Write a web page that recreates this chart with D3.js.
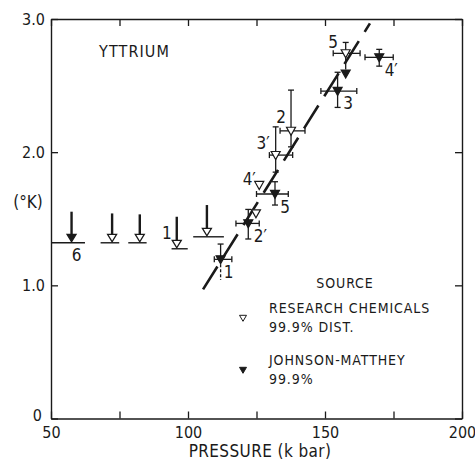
<!DOCTYPE html>
<html>
<head>
<meta charset="utf-8">
<script src="https://cdn.jsdelivr.net/npm/d3@7"></script>
<style>
  body { margin: 0; background: #fff; }
  svg { display: block; font-family: "Liberation Sans Narrow", "DejaVu Sans Condensed", "Liberation Sans", Arial, sans-serif; }
</style>
</head>
<body>
<svg id="chart" width="475" height="461"></svg>
<script>
// upper limits drawn as arrows on the left
const limitPressure = [57.5, 72.3, 82.4, 95.9, 106.9];
const limitTc = [1.327, 1.327, 1.327, 1.282, 1.372];
const limitArrowTop = [1.553, 1.54, 1.533, 1.515, 1.603];
const limitRangeLo = [50, 68.1, 78.2, 94.0, 101.9];
const limitRangeHi = [62.4, 74.9, 84.9, 99.9, 113.1];
const limitSource = ["JM", "RC", "RC", "RC", "RC"];
const limitLabels = ["6", "", "", "1", ""];

// measured points with error bars
const pointLabels = ["1", "2′", "", "4′", "5", "3′", "2", "3", "5", "", "4′"];
const pointSource = ["JM", "JM", "RC", "RC", "JM", "RC", "RC", "JM", "RC", "JM", "JM"];
const pointPressure = [111.9, 122.0, 124.8, 126.0, 131.75, 132.0, 137.6, 154.6, 157.55, 157.55, 169.8];
const pointTc = [1.195, 1.465, 1.54, 1.753, 1.686, 1.978, 2.16, 2.459, 2.742, 2.59, 2.712];
const pressureLo = [109.6, 117.5, null, null, 125.0, 129.7, 133.6, 148.5, 153.0, null, 164.6];
const pressureHi = [116.0, 126.0, null, null, 136.6, 138.2, 142.7, 161.6, 162.8, null, 174.9];
const tcLo = [1.04, 1.348, null, null, 1.603, 1.85, 2.04, 2.336, 2.62, null, 2.646];
const tcHi = [1.31, 1.57, null, null, 1.778, 2.19, 2.466, 2.60, 2.824, null, 2.772];
const tcLoStyle = ["dash", "cap", null, null, "cap", "cap", "cap", "cap", "none", null, "cap"];

// dashed guide line
const linePressure = [105.5, 166.4];
const lineTc = [0.97, 2.967];

const xTicks = [50, 75, 100, 125, 150, 175, 200];
const xTickLabels = [50, 100, 150, 200];
const yTicks = [0, 1, 2, 3];
const yTickLabels = ["0", "1.0", "2.0", "3.0"];

const sourceKeys = ["RC", "JM"];
const sourceNames = [["RESEARCH CHEMICALS", "99.9% DIST."], ["JOHNSON-MATTHEY", "99.9%"]];

// label placement (pixels from the point)
const labelOffset = [[8, 13], [12, 13], null, [-10, -6], [10, 13.5], [-12.5, -12], [-10, -14], [10.5, 12], [-12.5, -11], null, [12, 13]];

const W = 475, H = 461;
const margin = { top: 19, right: 13, bottom: 42.5, left: 51 };
const ink = "#1a1a1a";

const svg = d3.select("#chart");

const x = d3.scaleLinear().domain([50, 200]).range([margin.left, W - margin.right]);
const y = d3.scaleLinear().domain([0, 3]).range([H - margin.bottom, margin.top]);

// axes, ticks point inward
const styleAxis = g => {
  g.attr("font-family", null).attr("font-size", 16);
  g.select(".domain").attr("stroke", ink).attr("stroke-width", 1.4);
  g.selectAll(".tick line").attr("stroke", ink).attr("stroke-width", 1.3);
  g.selectAll(".tick text").attr("fill", ink);
};

svg.append("g")
  .attr("transform", `translate(0,${y(0)})`)
  .call(d3.axisBottom(x).tickValues(xTicks).tickSize(-7).tickSizeOuter(0).tickPadding(8)
    .tickFormat(d => xTickLabels.includes(d) ? d : ""))
  .call(styleAxis);

svg.append("g")
  .attr("transform", `translate(0,${y(3)})`)
  .call(d3.axisTop(x).tickValues(xTicks).tickSize(-7).tickSizeOuter(0).tickFormat(""))
  .call(styleAxis);

svg.append("g")
  .attr("transform", `translate(${x(50)},0)`)
  .call(d3.axisLeft(y).tickValues(yTicks).tickSize(-7).tickSizeOuter(0).tickPadding(6)
    .tickFormat((d, i) => yTickLabels[i]))
  .call(styleAxis)
  .call(g => g.selectAll(".tick text").filter(d => d === 0).attr("dy", "0.1em").attr("x", -9));

svg.append("g")
  .attr("transform", `translate(${x(200)},0)`)
  .call(d3.axisRight(y).tickValues(yTicks).tickSize(-7).tickSizeOuter(0).tickFormat(""))
  .call(styleAxis);

// titles
svg.append("text").attr("x", 260).attr("y", 457).attr("text-anchor", "middle")
  .attr("font-size", 17).attr("letter-spacing", 0.4).attr("fill", ink).text("PRESSURE (k bar)");
svg.append("text").attr("x", 28).attr("y", 208).attr("text-anchor", "middle")
  .attr("font-size", 17).attr("fill", ink).text("(°K)");
svg.append("text").attr("x", 99).attr("y", 57).attr("font-size", 16).attr("letter-spacing", 1.1)
  .attr("fill", ink).text("YTTRIUM");

// downward triangle
const tri = (cx, cy, w, h) =>
  `M${cx - w / 2},${cy - h * 0.45}L${cx + w / 2},${cy - h * 0.45}L${cx},${cy + h * 0.55}Z`;
const fillFor = s => s === "JM" ? ink : "#fff";

// dashed line
const lineGen = d3.line().x(d => x(d[0])).y(d => y(d[1]));
svg.append("path")
  .attr("d", lineGen(d3.zip(linePressure, lineTc)))
  .attr("fill", "none").attr("stroke", ink).attr("stroke-width", 2.6)
  .attr("stroke-dasharray", "27,11");

// upper limit arrows
const limits = d3.range(limitPressure.length).map(i => ({
  p: limitPressure[i], t: limitTc[i], top: limitArrowTop[i],
  lo: limitRangeLo[i], hi: limitRangeHi[i], src: limitSource[i], label: limitLabels[i]
}));

const lg = svg.append("g");
limits.forEach(d => {
  const cx = x(d.p), tip = y(d.t);
  lg.append("line").attr("x1", x(d.lo)).attr("x2", x(d.hi)).attr("y1", tip + 1).attr("y2", tip + 1)
    .attr("stroke", ink).attr("stroke-width", 1.4);
  lg.append("line").attr("x1", cx).attr("x2", cx).attr("y1", y(d.top)).attr("y2", tip - 7)
    .attr("stroke", ink).attr("stroke-width", 2.4);
  lg.append("path").attr("d", `M${cx - 4.5},${tip - 7.5}L${cx + 4.5},${tip - 7.5}L${cx},${tip}Z`)
    .attr("fill", fillFor(d.src)).attr("stroke", ink).attr("stroke-width", 1.3);
  if (d.label) {
    const off = d.label === "6" ? [5, 13] : [-10, -15];
    lg.append("text").attr("x", cx + off[0]).attr("y", tip + off[1])
      .attr("text-anchor", "middle").attr("dominant-baseline", "central")
      .attr("font-size", 17).attr("fill", ink).text(d.label);
  }
});

// error bar points
const points = d3.range(pointPressure.length).map(i => ({
  p: pointPressure[i], t: pointTc[i], label: pointLabels[i], src: pointSource[i],
  xlo: pressureLo[i], xhi: pressureHi[i], ylo: tcLo[i], yhi: tcHi[i], loStyle: tcLoStyle[i],
  off: labelOffset[i]
}));

const pg = svg.append("g");
points.forEach(d => {
  const cx = x(d.p), cy = y(d.t);
  const bar = (x1, y1, x2, y2) => pg.append("line")
    .attr("x1", x1).attr("y1", y1).attr("x2", x2).attr("y2", y2)
    .attr("stroke", ink).attr("stroke-width", 1.3);
  if (d.xlo != null) {
    bar(x(d.xlo), cy, x(d.xhi), cy);
    bar(x(d.xlo), cy - 3, x(d.xlo), cy + 3);
    bar(x(d.xhi), cy - 3, x(d.xhi), cy + 3);
  }
  if (d.yhi != null) {
    bar(cx, cy, cx, y(d.yhi));
    bar(cx - 3, y(d.yhi), cx + 3, y(d.yhi));
    const lo = bar(cx, cy, cx, y(d.ylo));
    if (d.loStyle === "dash") lo.attr("stroke-dasharray", "3,2");
    if (d.loStyle === "cap") bar(cx - 3, y(d.ylo), cx + 3, y(d.ylo));
  }
  pg.append("path").attr("d", tri(cx, cy, 9, 8))
    .attr("fill", fillFor(d.src)).attr("stroke", ink).attr("stroke-width", 1.2);
  if (d.label) {
    pg.append("text").attr("x", cx + d.off[0]).attr("y", cy + d.off[1])
      .attr("text-anchor", "middle").attr("dominant-baseline", "central")
      .attr("font-size", 17).attr("fill", ink).text(d.label);
  }
});

// legend
const leg = svg.append("g").attr("font-size", 14).attr("letter-spacing", 0.9).attr("fill", ink);
leg.append("text").attr("x", 345).attr("y", 288).attr("text-anchor", "middle").text("SOURCE");
sourceKeys.forEach((k, i) => {
  const top = 313 + i * 52;
  leg.append("path").attr("d", tri(243, top + 5, 7, 6))
    .attr("fill", fillFor(k)).attr("stroke", ink).attr("stroke-width", 1);
  sourceNames[i].forEach((line, j) => {
    leg.append("text").attr("x", 269).attr("y", top + j * 19).text(line);
  });
});
</script>
</body>
</html>
